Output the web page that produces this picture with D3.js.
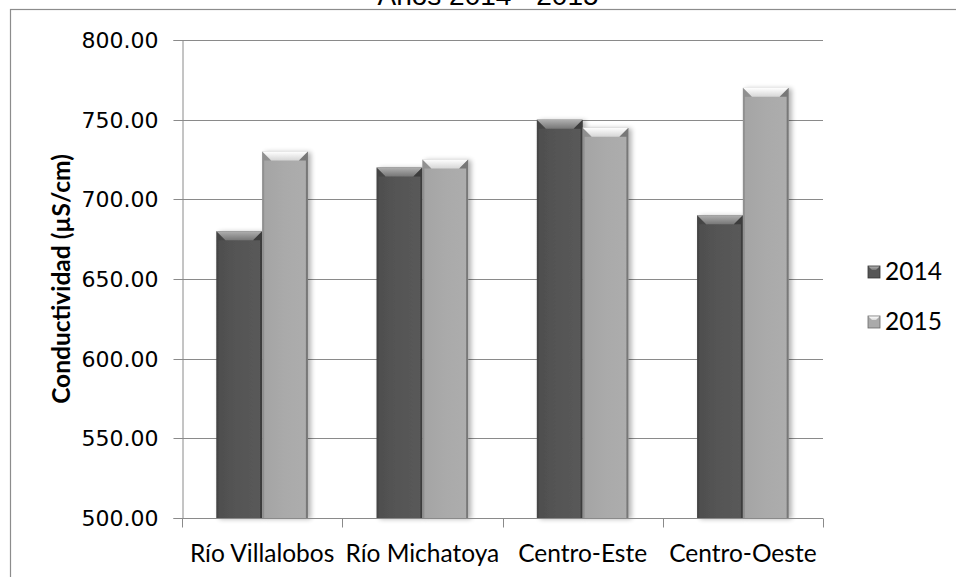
<!DOCTYPE html>
<html>
<head>
<meta charset="utf-8">
<script src="https://cdn.jsdelivr.net/npm/d3@7"></script>
<style>
  html, body { margin: 0; padding: 0; background: #fff; }
  svg { display: block; }
</style>
</head>
<body>
<svg id="chart" width="956" height="577"></svg>
<script>
// Conductividad por sitio, años 2014 y 2015
const categories = ["Río Villalobos", "Río Michatoya", "Centro-Este", "Centro-Oeste"];
const seriesNames = ["2014", "2015"];
const values2014 = [680, 720, 750, 690];
const values2015 = [730, 725, 745, 770];
const yTicks = [500, 550, 600, 650, 700, 750, 800];
const titleText = "Años 2014 - 2015";
const yTitle = "Conductividad (µS/cm)";

const svg = d3.select("#chart");
const W = 956, H = 577;
const plot = { left: 182, right: 823, top: 40, bottom: 518 };

const labelFont = "'Lato', 'Open Sans', 'Liberation Sans', sans-serif";
const tickFont = "'DejaVu Sans', Verdana, sans-serif";

// outer frame of the chart area
svg.append("rect")
  .attr("x", 10.5).attr("y", 9.5)
  .attr("width", W + 20).attr("height", H + 20)
  .attr("fill", "#fff").attr("stroke", "#8c8c8c").attr("stroke-width", 1.2);

// title, partly above the frame
svg.append("text")
  .attr("x", 488).attr("y", 5)
  .attr("text-anchor", "middle")
  .attr("font-family", "'Liberation Sans', Arial, sans-serif")
  .attr("font-size", 28)
  .attr("fill", "#000")
  .text(titleText);

const x0 = d3.scaleBand().domain(categories).range([plot.left, plot.right]);
const x1 = d3.scaleBand().domain(seriesNames)
  .range([0, x0.bandwidth()]).paddingInner(0).paddingOuter(0.75);
const y = d3.scaleLinear().domain([500, 800]).range([plot.bottom, plot.top]);

// gradients and shadow filter
const defs = svg.append("defs");
const palette = {
  "2014": { face: "#555555", faceL: "#4e4e4e", faceR: "#5a5a5a", bevTop: "#b0b0b0", bevBot: "#777777", edge: "#353535" },
  "2015": { face: "#aaaaaa", faceL: "#a4a4a4", faceR: "#adadad", bevTop: "#ffffff", bevBot: "#d6d6d6", edge: "#6a6a6a" }
};
seriesNames.forEach(s => {
  const p = palette[s];
  const gf = defs.append("linearGradient").attr("id", "face" + s)
    .attr("x1", 0).attr("x2", 1).attr("y1", 0).attr("y2", 0);
  gf.append("stop").attr("offset", 0).attr("stop-color", p.faceL);
  gf.append("stop").attr("offset", 0.5).attr("stop-color", p.face);
  gf.append("stop").attr("offset", 1).attr("stop-color", p.faceR);
  const gb = defs.append("linearGradient").attr("id", "bev" + s)
    .attr("x1", 0).attr("x2", 0).attr("y1", 0).attr("y2", 1);
  gb.append("stop").attr("offset", 0).attr("stop-color", p.bevTop);
  gb.append("stop").attr("offset", 1).attr("stop-color", p.bevBot);
});
const f = defs.append("filter").attr("id", "shadow")
  .attr("x", -0.3).attr("y", -0.1).attr("width", 1.6).attr("height", 1.2);
f.append("feGaussianBlur").attr("in", "SourceAlpha").attr("stdDeviation", 2.5).attr("result", "b");
f.append("feOffset").attr("in", "b").attr("dx", 3).attr("dy", 1).attr("result", "o");
f.append("feComponentTransfer").attr("in", "o").attr("result", "s")
  .append("feFuncA").attr("type", "linear").attr("slope", 0.3);
const fm = f.append("feMerge");
fm.append("feMergeNode").attr("in", "s");
fm.append("feMergeNode").attr("in", "SourceGraphic");

// gridlines
svg.append("g")
  .selectAll("line").data(yTicks.filter(t => t > 500)).join("line")
  .attr("x1", plot.left).attr("x2", plot.right)
  .attr("y1", d => Math.round(y(d)) + 0.5).attr("y2", d => Math.round(y(d)) + 0.5)
  .attr("stroke", "#8a8a8a").attr("stroke-width", 1);

// y axis
const yAxis = svg.append("g")
  .attr("transform", `translate(${plot.left + 0.5},0)`)
  .call(d3.axisLeft(y).tickValues(yTicks).tickFormat(d3.format(".2f")).tickSize(9).tickPadding(15));
yAxis.select(".domain").attr("stroke", "#8a8a8a");
yAxis.selectAll(".tick line").attr("stroke", "#8a8a8a");
yAxis.selectAll(".tick text")
  .attr("font-family", tickFont).attr("font-size", 22).attr("fill", "#000");
yAxis.selectAll(".tick").attr("transform", d => `translate(0,${Math.round(y(d)) + 0.5})`);

// bars with a bevelled top and darker side edges
const series = [values2014, values2015];
const bev = 9;
const barsG = svg.append("g");
categories.forEach((c, i) => {
  seriesNames.forEach((s, j) => {
    const v = series[j][i];
    const xa = x0(c) + x1(s);
    const xb = xa + x1.bandwidth();
    const yt = y(v);
    const yb = y(500);
    const p = palette[s];
    const g = barsG.append("g").attr("filter", "url(#shadow)");
    g.append("rect")
      .attr("x", xa).attr("y", yt).attr("width", xb - xa).attr("height", yb - yt)
      .attr("fill", `url(#face${s})`);
    g.append("path")
      .attr("d", `M${xa},${yt}L${xb},${yt}L${xb - bev},${yt + bev}L${xa + bev},${yt + bev}Z`)
      .attr("fill", `url(#bev${s})`);
    g.append("path")
      .attr("d", `M${xa},${yt}L${xa + bev},${yt + bev}L${xa + 2},${yt + bev}L${xa + 2},${yb}L${xa},${yb}Z`)
      .attr("fill", p.edge).attr("opacity", 0.35);
    g.append("path")
      .attr("d", `M${xb},${yt}L${xb - bev},${yt + bev}L${xb - 2},${yt + bev}L${xb - 2},${yb}L${xb},${yb}Z`)
      .attr("fill", p.edge).attr("opacity", 0.8);
  });
});

// x axis
const xAxis = svg.append("g")
  .attr("transform", `translate(0,${plot.bottom + 0.5})`);
xAxis.append("line")
  .attr("x1", plot.left).attr("x2", plot.right)
  .attr("stroke", "#8a8a8a");
xAxis.selectAll("line.tk").data(d3.range(categories.length + 1)).join("line")
  .attr("class", "tk")
  .attr("x1", d => Math.round(plot.left + d * x0.step()) + 0.5)
  .attr("x2", d => Math.round(plot.left + d * x0.step()) + 0.5)
  .attr("y1", 0).attr("y2", 9)
  .attr("stroke", "#8a8a8a");
xAxis.selectAll("text").data(categories).join("text")
  .attr("x", d => x0(d) + x0.bandwidth() / 2)
  .attr("y", 43)
  .attr("text-anchor", "middle")
  .attr("font-family", labelFont).attr("font-size", 24.5).attr("fill", "#000")
  .text(d => d);

// y axis title
svg.append("text")
  .attr("transform", "translate(70,279) rotate(-90)")
  .attr("text-anchor", "middle")
  .attr("font-family", labelFont).attr("font-size", 24.5).attr("font-weight", "bold")
  .attr("fill", "#000")
  .text(yTitle);

// legend
const legend = svg.append("g").attr("transform", "translate(868,266)");
seriesNames.forEach((s, j) => {
  const g = legend.append("g").attr("transform", `translate(0,${j * 50})`);
  const p = palette[s];
  g.append("rect").attr("x", 0).attr("y", 0).attr("width", 12).attr("height", 12)
    .attr("fill", p.face).attr("stroke", p.edge).attr("stroke-width", 0.8);
  g.append("path").attr("d", "M0.5,0.5L11.5,0.5L8,4L4,4Z").attr("fill", `url(#bev${s})`);
  g.append("text").attr("x", 17).attr("y", 14)
    .attr("font-family", labelFont).attr("font-size", 24.5).attr("fill", "#000")
    .text(s);
});
</script>
</body>
</html>
